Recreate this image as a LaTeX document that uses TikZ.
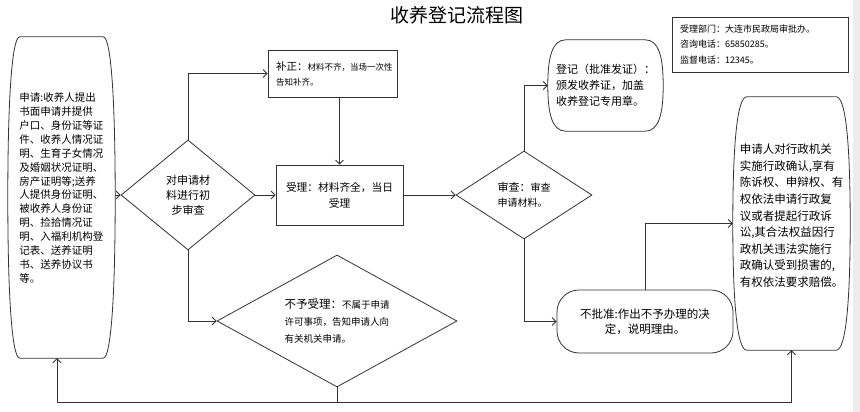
\documentclass[tikz,border=0pt]{standalone}
\usepackage{fontspec}
\setmainfont{Noto Sans CJK SC}
\usetikzlibrary{arrows.meta,calc,shapes.geometric}
\newcommand\bulgepath[3]{%
  \draw[ln] ($(#1.north west)+(#2+#3,0)$) -- ($(#1.north east)+(-#2-#3,0)$)
    .. controls ($(#1.north east)+(-#3,0)$) and ($(#1.north east)!0.2!(#1.south east)$) .. (#1.east)
    .. controls ($(#1.north east)!0.8!(#1.south east)$) and ($(#1.south east)+(-#3,0)$) .. ($(#1.south east)+(-#2-#3,0)$)
    -- ($(#1.south west)+(#2+#3,0)$)
    .. controls ($(#1.south west)+(#3,0)$) and ($(#1.north west)!0.8!(#1.south west)$) .. (#1.west)
    .. controls ($(#1.north west)!0.2!(#1.south west)$) and ($(#1.north west)+(#3,0)$) .. cycle;}
\tikzset{
  ln/.style={draw=black!80, line width=0.8pt},
  arr/.style={ln, -{Straight Barb[length=4pt,width=8pt]}},
  holder/.style={inner sep=0pt},
}
\begin{document}
\begin{tikzpicture}[x=1pt,y=-1pt]
\useasboundingbox (0,0) rectangle (860,412);
\fill[white] (0,0) rectangle (860,412);
\fill[gray!15] (853,0) rectangle (860,412);

\node[font=\fontsize{19}{22}\selectfont] (title) at (457,15) {收养登记流程图};

\node[ln, minimum width=176pt, minimum height=55pt, text width=160pt, align=left, inner sep=0pt,
      font=\fontsize{9}{15.5}\selectfont] (info) at (760,44.5)
  {受理部门：大连市民政局审批办。\\咨询电话：65850285。\\监督电话：12345。};

\node[holder, minimum width=107pt, minimum height=321pt, align=left,
      font=\fontsize{10.5}{13.9}\selectfont] (L) at (61.5,197.5)
  {申请:收养人提出\\书面申请并提供\\户口、身份证等证\\件、收养人情况证\\明、生育子女情况\\及婚姻状况证明、\\房产证明等;送养\\人提供身份证明、\\被收养人身份证\\明、捡拾情况证\\明、入福利机构登\\记表、送养证明\\书、送养协议书\\等。\\[6pt]~};
\bulgepath{L}{8}{4}

\node[diamond, ln, minimum width=134pt, minimum height=110pt, inner sep=0pt, align=center,
      font=\fontsize{11}{15}\selectfont] (D1) at (188,195) {对申请材\\料进行初\\步审查};

\node[ln, minimum width=129pt, minimum height=47pt, text width=113pt, inner sep=0pt, align=left,
      font=\fontsize{8.5}{15}\selectfont] (B) at (332.5,73.5)
  {{\fontsize{10.5}{15}\selectfont 补正：}材料不齐，当场一次性\\告知补齐。};

\node[ln, minimum width=127pt, minimum height=60pt, inner sep=0pt, align=center,
      font=\fontsize{10.7}{16}\selectfont] (S) at (339.5,195) {受理：材料齐全，当日\\受理};

\node[diamond, aspect=1.5, ln, minimum width=136pt, minimum height=88pt, inner sep=0pt, align=left,
      font=\fontsize{10}{15}\selectfont] (D2) at (524,195)
  {{\fontsize{11}{15}\selectfont 审查：}审查\\申请材料。};

\node[holder, minimum width=115pt, minimum height=91pt, align=left,
      font=\fontsize{11}{16}\selectfont] (G) at (605.5,85.5)
  {登记（批准发证）：\\颁发收养证，加盖\\收养登记专用章。};
\bulgepath{G}{14}{4}

\node[ln, rounded corners=22pt, minimum width=176pt, minimum height=63pt, inner sep=0pt, align=center,
      font=\fontsize{11.5}{15}\selectfont] (N) at (645,321.5)
  {不批准:作出不予办理的决\\定，说明理由。};

\node[holder, minimum width=117pt, minimum height=253pt, align=left,
      font=\fontsize{11.5}{16.6}\selectfont] (RB) at (791.5,223.5)
  {申请人对行政机关\\实施行政确认,享有\\陈诉权、申辩权、有\\权依法申请行政复\\议或者提起行政诉\\讼,其合法权益因行\\政机关违法实施行\\政确认受到损害的,\\有权依法要求赔偿。\\~};
\bulgepath{RB}{10}{4}

\node[diamond, aspect=1.8, ln, minimum width=240pt, minimum height=132pt, inner sep=0pt, align=left,
      font=\fontsize{9.5}{17}\selectfont] (D3) at (337,321)
  {{\fontsize{11.5}{17}\selectfont 不予受理：}不属于申请\\许可事项，告知申请人向\\有关机关申请。};

\draw[arr] (D1.west -| L.east) -- (D1.west);
\draw[arr] (D1.north) |- (B.west);
\draw[arr] (S.north |- B.south) -- (S.north);
\draw[arr] (D1.east) -- (S.west);
\draw[arr] (S.east) -- (D2.west);
\draw[arr] (D2.north) |- (G.west);
\draw[arr] (D2.south) |- (N.west);
\draw[arr] (N.north) |- (RB.west);
\draw[arr] (D1.south) |- (D3.west);
\coordinate (bl) at (57,402);
\draw[ln] (D3.south) -- (D3.south |- bl);
\draw[arr] (D3.south |- bl) -- (bl) -- (bl |- L.south);
\draw[arr] (D3.south |- bl) -| (RB.south);
\end{tikzpicture}
\end{document}
